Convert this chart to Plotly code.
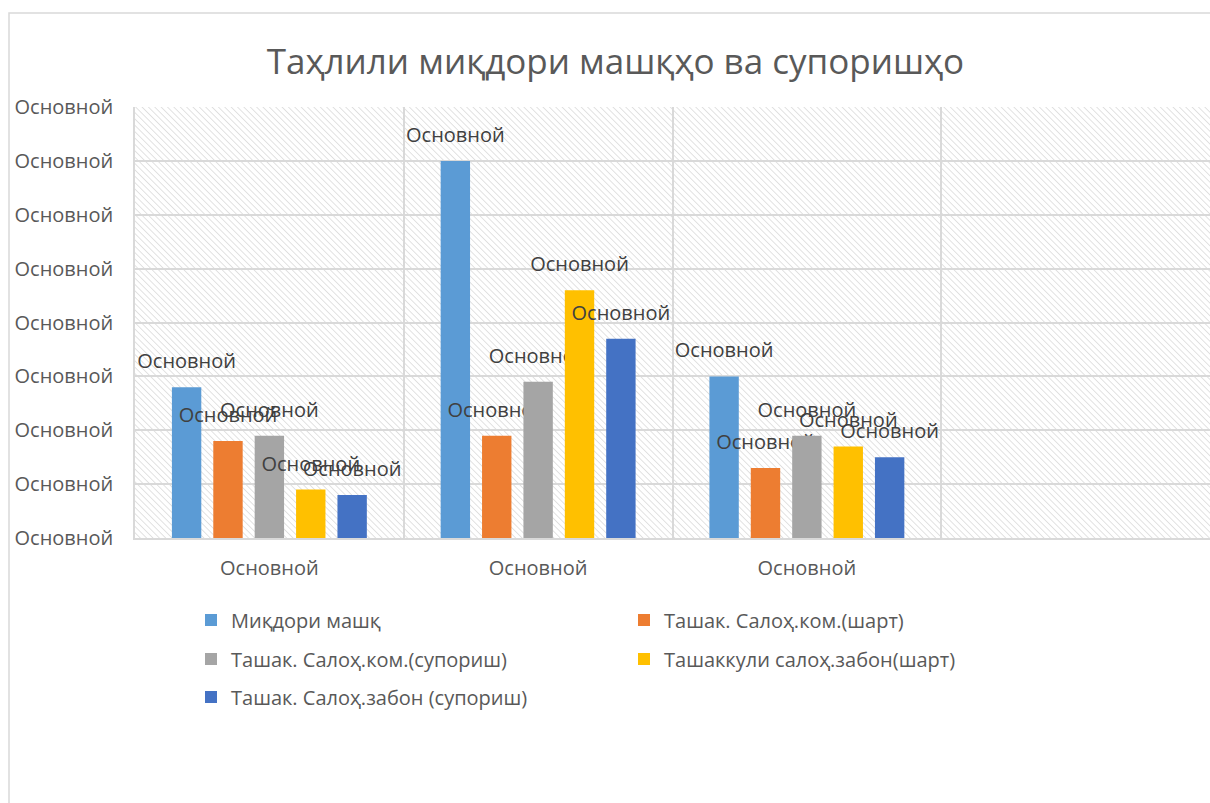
import plotly.graph_objects as go
import urllib.parse

# ---- data ----
categories = ["Основной", "Основной", "Основной"]
cat_pos = [0, 1, 2]
series_names = [
    "Миқдори машқ",
    "Ташак. Салоҳ.ком.(шарт)",
    "Ташак. Салоҳ.ком.(супориш)",
    "Ташаккули салоҳ.забон(шарт)",
    "Ташак. Салоҳ.забон (супориш)",
]
s1 = [2.8, 7.0, 3.0]
s2 = [1.8, 1.9, 1.3]
s3 = [1.9, 2.9, 1.9]
s4 = [0.9, 4.6, 1.7]
s5 = [0.8, 3.7, 1.5]
series_values = [s1, s2, s3, s4, s5]
y_ticks = [0, 1, 2, 3, 4, 5, 6, 7, 8]
y_ticktext = ["Основной"] * 9
data_label = "Основной"

colors = ["#5B9BD5", "#ED7D31", "#A5A5A5", "#FFC000", "#4472C4"]
legend_ids = ["legend", "legend", "legend2", "legend2", "legend3"]

FONT = "Open Sans"
W, H = 1210, 803
PLOT_L, PLOT_T, PLOT_R, PLOT_B = 135, 107, 1210, 538  # page pixels
ML, MT = PLOT_L, PLOT_T
PW, PH = PLOT_R - PLOT_L, PLOT_B - PLOT_T
MR, MB = W - ML - PW, H - MT - PH


def px_x(page_x):
    return (page_x - PLOT_L) / PW


def px_y(page_y):
    return (PLOT_B - page_y) / PH


fig = go.Figure()
label_text = f"<span style='font-size:20px'>{data_label}</span><br> "
for name, vals, col, lg in zip(series_names, series_values, colors, legend_ids):
    fig.add_trace(go.Bar(
        name=name, x=cat_pos, y=vals, marker_color=col, marker_line_width=0,
        text=[label_text] * len(vals), textposition="outside",
        textfont=dict(family=FONT, size=10, color="#404040"),
        constraintext="none", cliponaxis=False, legend=lg, hoverinfo="skip",
    ))

# hatch background of the plot area
hatch_svg = (
    f"<svg xmlns='http://www.w3.org/2000/svg' width='{PW}' height='{PH}'>"
    "<defs><pattern id='h' width='4.5' height='4.5' patternUnits='userSpaceOnUse' "
    "patternTransform='rotate(-45)'>"
    "<line x1='0' y1='0' x2='0' y2='4.5' stroke='#d6d6d6' stroke-width='1.4'/>"
    "</pattern></defs>"
    f"<rect width='{PW}' height='{PH}' fill='url(#h)'/></svg>"
)
src = "data:image/svg+xml;charset=utf-8," + urllib.parse.quote(hatch_svg)
fig.add_layout_image(dict(source=src, xref="paper", yref="paper", x=0, y=1,
                          sizex=1, sizey=1, xanchor="left", yanchor="top",
                          sizing="stretch", layer="below"))

# outer chart border
fig.add_shape(type="rect", xref="paper", yref="paper",
              x0=px_x(9), x1=px_x(1260), y0=px_y(850), y1=px_y(13),
              line=dict(color="#d9d9d9", width=1.5), layer="below")

legend_common = dict(orientation="h", xanchor="left", x=px_x(191),
                     yanchor="middle", entrywidth=388, entrywidthmode="pixels",
                     font=dict(family=FONT, size=20, color="#595959"),
                     bgcolor="rgba(0,0,0,0)", itemclick=False)
fig.update_layout(
    width=W, height=H,
    margin=dict(l=ML, r=MR, t=MT, b=MB),
    paper_bgcolor="white", plot_bgcolor="rgba(0,0,0,0)",
    barmode="group", bargap=0.23, bargroupgap=0.29,
    title=dict(text="Таҳлили миқдори машқҳо ва супоришҳо", x=615.5 / W,
               xanchor="center", y=1 - 62 / H, yanchor="middle",
               font=dict(family=FONT, size=35, color="#595959")),
    legend=dict(**legend_common, y=px_y(620)),
    legend2=dict(**legend_common, y=px_y(659)),
    legend3=dict(**legend_common, y=px_y(697)),
    showlegend=True,
)
fig.update_xaxes(
    range=[-0.5, 3.5], tickvals=cat_pos, ticktext=categories,
    showgrid=False, zeroline=False, showline=True, linecolor="#d9d9d9", linewidth=1.5,
    ticks="", ticklabelstandoff=11,
    tickfont=dict(family=FONT, size=20, color="#595959"),
    minor=dict(tickvals=[0.5, 1.5, 2.5], showgrid=True, gridcolor="#d9d9d9", gridwidth=1.5),
)
fig.update_yaxes(
    range=[0, 8], tickvals=y_ticks, ticktext=y_ticktext,
    showgrid=True, gridcolor="#d9d9d9", gridwidth=1.5, zeroline=False,
    showline=True, linecolor="#d9d9d9", linewidth=1.5,
    ticks="", ticklabelstandoff=16,
    tickfont=dict(family=FONT, size=20, color="#595959"),
)
fig.write_html(
    "out.html",
    config={"displayModeBar": False},
    post_script="document.body.style.margin='0px';document.body.style.overflow='hidden';",
)
